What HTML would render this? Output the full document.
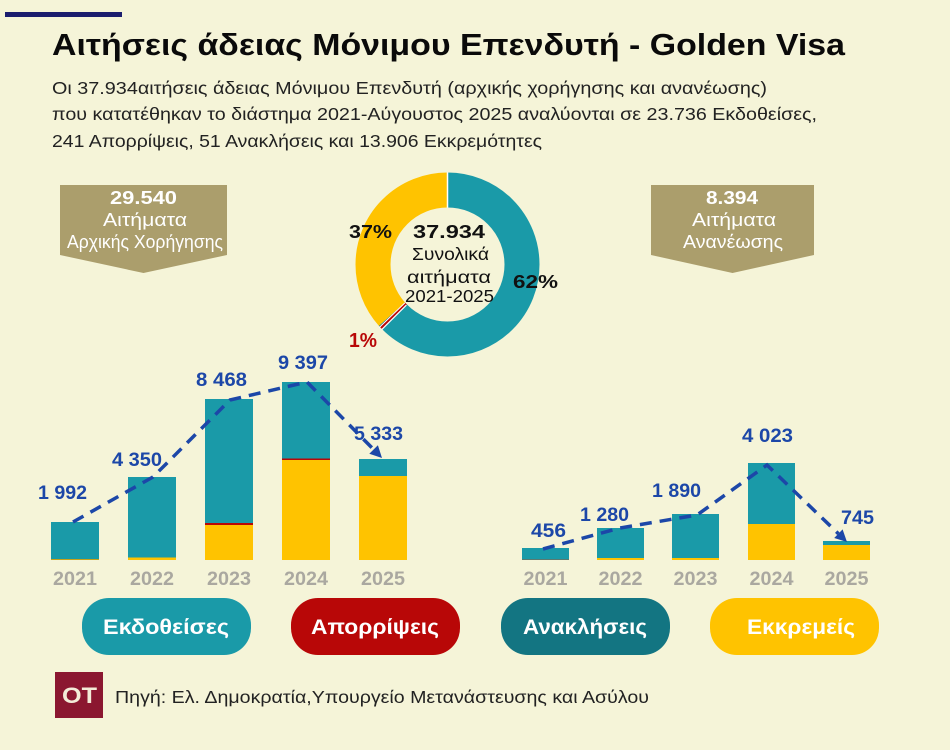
<!DOCTYPE html>
<html><head><meta charset="utf-8"><style>
html,body{margin:0;padding:0;background:#f5f4d8;}
svg{display:block;font-family:"Liberation Sans","DejaVu Sans",sans-serif;}
</style></head><body>
<svg width="950" height="750" viewBox="0 0 950 750" xmlns="http://www.w3.org/2000/svg">
<rect x="0" y="0" width="950" height="750" fill="#f5f4d8"/>
<rect x="5" y="12" width="117" height="5" fill="#1b1d6e"/>
<text x="52" y="55" font-size="31" font-weight="bold" fill="#0a0a0a" textLength="793" lengthAdjust="spacingAndGlyphs">Αιτήσεις άδειας Μόνιμου Επενδυτή - Golden Visa</text>
<g font-size="17.5" fill="#222">
<text x="52" y="94" textLength="715" lengthAdjust="spacingAndGlyphs">Οι 37.934αιτήσεις άδειας Μόνιμου Επενδυτή (αρχικής χορήγησης και ανανέωσης)</text>
<text x="52" y="120" textLength="765" lengthAdjust="spacingAndGlyphs">που κατατέθηκαν το διάστημα 2021-Αύγουστος 2025 αναλύονται σε 23.736 Εκδοθείσες,</text>
<text x="52" y="147" textLength="490" lengthAdjust="spacingAndGlyphs">241 Απορρίψεις, 51 Ανακλήσεις και 13.906 Εκκρεμότητες</text>
</g>

<!-- boxes -->
<polygon points="60,185 227,185 227,255 143.5,273 60,255" fill="#ab9e6c"/>
<polygon points="651,185 814,185 814,255 732.5,273 651,255" fill="#ab9e6c"/>
<g fill="#ffffff" font-size="18.5">
<text x="110" y="204" font-weight="bold" textLength="67" lengthAdjust="spacingAndGlyphs">29.540</text>
<text x="103" y="226" textLength="84" lengthAdjust="spacingAndGlyphs">Αιτήματα</text>
<text x="67" y="248" textLength="156" lengthAdjust="spacingAndGlyphs">Αρχικής Χορήγησης</text>
<text x="706" y="204" font-weight="bold" textLength="52" lengthAdjust="spacingAndGlyphs">8.394</text>
<text x="692" y="226" textLength="84" lengthAdjust="spacingAndGlyphs">Αιτήματα</text>
<text x="683" y="248" textLength="100" lengthAdjust="spacingAndGlyphs">Ανανέωσης</text>
</g>

<!-- donut -->
<g transform="rotate(-90 447.5 264.5)">
<circle cx="447.5" cy="264.5" r="74.5" fill="none" stroke="#1a9aa8" stroke-width="35" stroke-dasharray="292.9 175.2"/>
<circle cx="447.5" cy="264.5" r="74.5" fill="none" stroke="#b80707" stroke-width="35" stroke-dasharray="3 465.1" stroke-dashoffset="-292.9"/>
<circle cx="447.5" cy="264.5" r="74.5" fill="none" stroke="#137582" stroke-width="35" stroke-dasharray="0.7 467.4" stroke-dashoffset="-295.9"/>
<circle cx="447.5" cy="264.5" r="74.5" fill="none" stroke="#ffc300" stroke-width="35" stroke-dasharray="171.5 296.6" stroke-dashoffset="-296.6"/>
</g>
<line x1="447.5" y1="172.5" x2="447.5" y2="207.5" stroke="#ffffff" stroke-width="1.5"/>
<line x1="381.5" y1="329.8" x2="406.4" y2="305.1" stroke="#ffffff" stroke-width="1.2"/>
<line x1="379.3" y1="327.5" x2="404.8" y2="303" stroke="#ffffff" stroke-width="1"/>
<g font-weight="bold">
<text x="349" y="238" font-size="18.5" fill="#111" textLength="43" lengthAdjust="spacingAndGlyphs">37%</text>
<text x="513" y="288" font-size="18.5" fill="#111" textLength="45" lengthAdjust="spacingAndGlyphs">62%</text>
<text x="349" y="347" font-size="20" fill="#b80707" textLength="28" lengthAdjust="spacingAndGlyphs">1%</text>
<text x="413" y="238" font-size="18.5" fill="#111" textLength="72" lengthAdjust="spacingAndGlyphs">37.934</text>
</g>
<g font-size="17.5" fill="#111">
<text x="412" y="260" textLength="77" lengthAdjust="spacingAndGlyphs">Συνολικά</text>
<text x="407" y="283" textLength="84" lengthAdjust="spacingAndGlyphs">αιτήματα</text>
<text x="405" y="302" textLength="89" lengthAdjust="spacingAndGlyphs">2021-2025</text>
</g>

<!-- left bars -->
<rect x="51" y="522" width="48" height="37" fill="#1a9aa8"/>
<rect x="51" y="559" width="48" height="1" fill="#c9a21a"/>
<rect x="128" y="477" width="48" height="80.5" fill="#1a9aa8"/>
<rect x="128" y="557.5" width="48" height="2.5" fill="#ffc300"/>
<rect x="205" y="399" width="48" height="124" fill="#1a9aa8"/>
<rect x="205" y="523" width="48" height="2" fill="#b80707"/>
<rect x="205" y="525" width="48" height="35" fill="#ffc300"/>
<rect x="282" y="382" width="48" height="76.5" fill="#1a9aa8"/>
<rect x="282" y="458.5" width="48" height="1.5" fill="#b80707"/>
<rect x="282" y="460" width="48" height="100" fill="#ffc300"/>
<rect x="359" y="459" width="48" height="17" fill="#1a9aa8"/>
<rect x="359" y="476" width="48" height="84" fill="#ffc300"/>

<!-- right bars -->
<rect x="522" y="548" width="47" height="11" fill="#1a9aa8"/>
<rect x="522" y="559" width="47" height="1" fill="#5a7a70"/>
<rect x="597" y="528" width="47" height="30" fill="#1a9aa8"/>
<rect x="597" y="558" width="47" height="2" fill="#ffc300"/>
<rect x="672" y="514" width="47" height="44" fill="#1a9aa8"/>
<rect x="672" y="558" width="47" height="2" fill="#ffc300"/>
<rect x="748" y="463" width="47" height="61" fill="#1a9aa8"/>
<rect x="748" y="524" width="47" height="36" fill="#ffc300"/>
<rect x="823" y="541" width="47" height="4" fill="#1a9aa8"/>
<rect x="823" y="545" width="47" height="15" fill="#ffc300"/>

<!-- dashed lines -->
<polyline points="73,522 153,477 230,400 307,382 373.6,449.5" fill="none" stroke="#1c47a8" stroke-width="3.5" stroke-dasharray="12,8"/>
<polygon points="382,458 369.3,453.7 377.9,445.3" fill="#1c47a8"/>
<polyline points="543,549 620,528 697,515 767,465 838.4,533.7" fill="none" stroke="#1c47a8" stroke-width="3.5" stroke-dasharray="12,8"/>
<polygon points="847,542 834.2,538 842.6,529.4" fill="#1c47a8"/>

<!-- value labels -->
<g font-size="19.5" font-weight="bold" fill="#1c47a8">
<text x="38" y="499" textLength="49" lengthAdjust="spacingAndGlyphs">1 992</text>
<text x="112" y="466" textLength="50" lengthAdjust="spacingAndGlyphs">4 350</text>
<text x="196" y="386" textLength="51" lengthAdjust="spacingAndGlyphs">8 468</text>
<text x="278" y="369" textLength="50" lengthAdjust="spacingAndGlyphs">9 397</text>
<text x="354" y="440" textLength="49" lengthAdjust="spacingAndGlyphs">5 333</text>
<text x="531" y="537" textLength="35" lengthAdjust="spacingAndGlyphs">456</text>
<text x="580" y="521" textLength="49" lengthAdjust="spacingAndGlyphs">1 280</text>
<text x="652" y="497" textLength="49" lengthAdjust="spacingAndGlyphs">1 890</text>
<text x="742" y="442" textLength="51" lengthAdjust="spacingAndGlyphs">4 023</text>
<text x="841" y="524" textLength="33" lengthAdjust="spacingAndGlyphs">745</text>
</g>

<!-- years -->
<g font-size="19.5" font-weight="bold" fill="#aaa8a0" text-anchor="middle">
<text x="75" y="585" textLength="44" lengthAdjust="spacingAndGlyphs">2021</text>
<text x="152" y="585" textLength="44" lengthAdjust="spacingAndGlyphs">2022</text>
<text x="229" y="585" textLength="44" lengthAdjust="spacingAndGlyphs">2023</text>
<text x="306" y="585" textLength="44" lengthAdjust="spacingAndGlyphs">2024</text>
<text x="383" y="585" textLength="44" lengthAdjust="spacingAndGlyphs">2025</text>
<text x="545.5" y="585" textLength="44" lengthAdjust="spacingAndGlyphs">2021</text>
<text x="620.5" y="585" textLength="44" lengthAdjust="spacingAndGlyphs">2022</text>
<text x="695.5" y="585" textLength="44" lengthAdjust="spacingAndGlyphs">2023</text>
<text x="771.5" y="585" textLength="44" lengthAdjust="spacingAndGlyphs">2024</text>
<text x="846.5" y="585" textLength="44" lengthAdjust="spacingAndGlyphs">2025</text>
</g>

<!-- legend pills -->
<rect x="82" y="598" width="169" height="57" rx="27" fill="#1a9aa8"/>
<rect x="291" y="598" width="169" height="57" rx="27" fill="#b80707"/>
<rect x="501" y="598" width="169" height="57" rx="27" fill="#137582"/>
<rect x="710" y="598" width="169" height="57" rx="27" fill="#ffc300"/>
<g font-size="21.5" font-weight="bold" fill="#ffffff">
<text x="103" y="634" textLength="126" lengthAdjust="spacingAndGlyphs">Εκδοθείσες</text>
<text x="311" y="634" textLength="128" lengthAdjust="spacingAndGlyphs">Απορρίψεις</text>
<text x="523" y="634" textLength="124" lengthAdjust="spacingAndGlyphs">Ανακλήσεις</text>
<text x="747" y="634" textLength="108" lengthAdjust="spacingAndGlyphs">Εκκρεμείς</text>
</g>

<!-- source -->
<rect x="55" y="672" width="48" height="46" fill="#8b1730"/>
<text x="62" y="703" font-size="22" font-weight="bold" fill="#f3ecd8" textLength="35" lengthAdjust="spacingAndGlyphs">OT</text>
<text x="115" y="703" font-size="17.5" fill="#222" textLength="534" lengthAdjust="spacingAndGlyphs">Πηγή: Ελ. Δημοκρατία,Υπουργείο Μετανάστευσης και Ασύλου</text>
</svg>
</body></html>
